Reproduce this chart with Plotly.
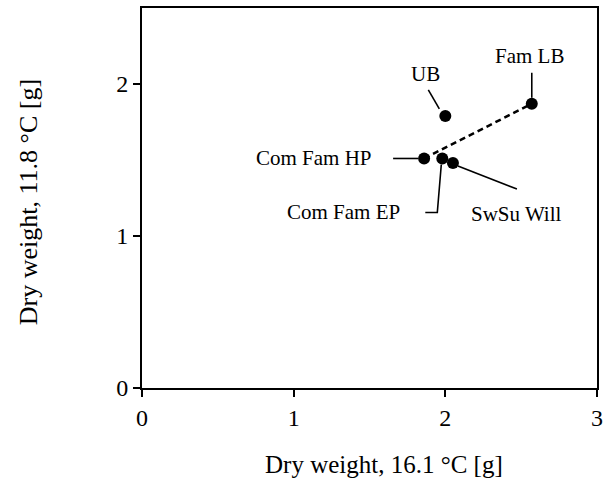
import plotly.graph_objects as go

# Dry weight of each population at the two growth temperatures
populations = ["Com Fam HP", "Com Fam EP", "SwSu Will", "UB", "Fam LB"]
dw_16_1 = [1.86, 1.98, 2.05, 2.00, 2.57]
dw_11_8 = [1.51, 1.51, 1.48, 1.79, 1.87]

# Dashed trend between the two family populations
trend_from = "Com Fam HP"
trend_to = "Fam LB"

# Label placement (pixel offsets from each point) and leader-line paths
label_offsets = {
    "Com Fam HP": (-110, 0),
    "Com Fam EP": (-99, -54),
    "SwSu Will": (64, -51),
    "UB": (-20, 42),
    "Fam LB": (-2, 48),
}
leader_paths = {
    "Com Fam HP": [(-31, 0), (-6, 0)],
    "Com Fam EP": [(-17, -54), (-5, -54), (-1, -6)],
    "SwSu Will": [(5, -3), (64, -26)],
    "UB": [(-17, 26), (-6, 7)],
    "Fam LB": [(0, 31), (0, 6)],
}

FONT = "Liberation Serif, Times New Roman, serif"

fig = go.Figure()

i0, i1 = populations.index(trend_from), populations.index(trend_to)
fig.add_trace(go.Scatter(
    x=[dw_16_1[i0], dw_16_1[i1]], y=[dw_11_8[i0], dw_11_8[i1]],
    mode="lines", line=dict(color="black", width=2.5, dash="6px,4px"),
    hoverinfo="skip", showlegend=False,
))
fig.add_trace(go.Scatter(
    x=dw_16_1, y=dw_11_8, mode="markers", text=populations,
    marker=dict(color="black", size=12), showlegend=False,
))

for name, xv, yv in zip(populations, dw_16_1, dw_11_8):
    dx, dy = label_offsets[name]
    fig.add_annotation(
        x=xv, y=yv, xref="x", yref="y", text=name, showarrow=False,
        xshift=dx, yshift=dy, font=dict(family=FONT, size=21, color="black"),
    )
    pts = leader_paths[name]
    path = "M " + " L ".join(f"{px},{py}" for px, py in pts)
    fig.add_shape(
        type="path", path=path, xref="x", yref="y",
        xsizemode="pixel", ysizemode="pixel", xanchor=xv, yanchor=yv,
        line=dict(color="black", width=1.6),
    )

fig.add_annotation(
    text="Dry weight, 16.1 °C [g]", xref="paper", yref="paper",
    x=0.5, y=-0.2, xshift=14, showarrow=False, yanchor="middle",
    font=dict(family=FONT, size=25, color="black"),
)
fig.add_annotation(
    text="Dry weight, 11.8 °C [g]", xref="paper", yref="paper",
    x=-0.25, y=0.5, textangle=-90, showarrow=False, xanchor="center",
    yshift=-4, font=dict(family=FONT, size=26, color="black"),
)

axis_common = dict(
    showline=True, linecolor="black", linewidth=2, mirror=True,
    ticks="outside", ticklen=7, tickwidth=2, tickcolor="black",
    showgrid=False, zeroline=False, automargin=False,
    tickfont=dict(family=FONT, size=24, color="black"),
)
fig.update_xaxes(range=[0, 3], tickvals=[0, 1, 2, 3], **axis_common)
fig.update_yaxes(range=[0, 2.5], tickvals=[0, 1, 2], **axis_common)

fig.update_layout(
    width=603, height=495,
    margin=dict(l=142, r=6, t=8, b=107),
    paper_bgcolor="white", plot_bgcolor="white",
    font=dict(family=FONT, color="black"),
)

fig.write_html("out.html")
